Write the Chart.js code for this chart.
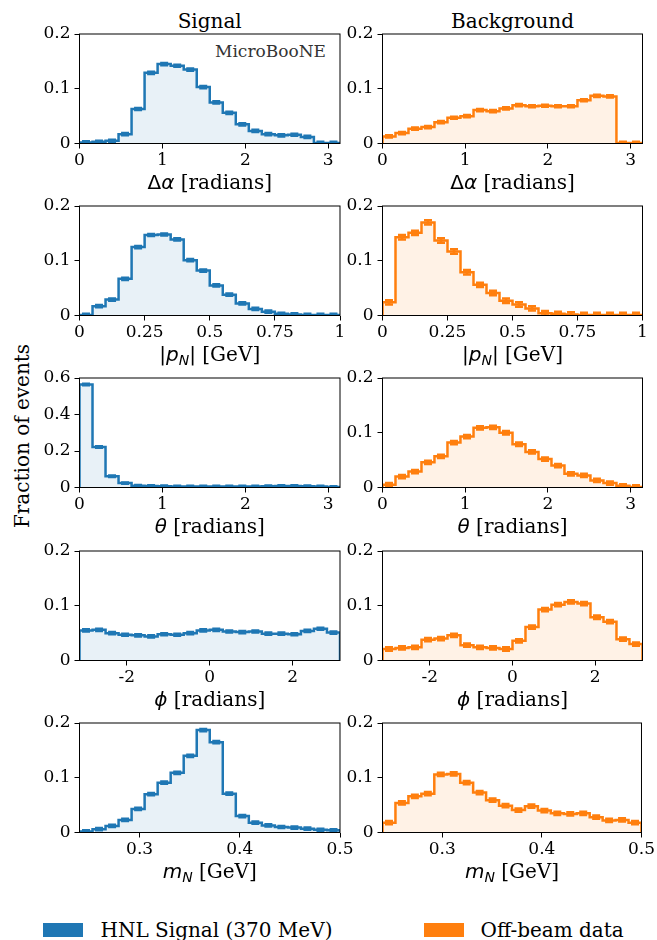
<!DOCTYPE html>
<html>
<head>
<meta charset="utf-8">
<script src="https://cdn.jsdelivr.net/npm/chart.js@4.4.0/dist/chart.umd.min.js"></script>
<style>
  body { margin: 0; background: #fff; }
  #wrap { position: relative; width: 657px; height: 940px; overflow: hidden; font-family: 'DejaVu Serif', serif; }
  #wrap canvas { position: absolute; }
  .txt { position: absolute; font-size: 20px; line-height: 20px; white-space: nowrap; color: #000; }
  .patch { position: absolute; width: 40px; height: 14px; }
</style>
</head>
<body>
<div id="wrap">
  <div class="txt" style="left:209.7px; top:11px; transform:translateX(-50%)">Signal</div>
  <div class="txt" style="left:512.5px; top:11px; transform:translateX(-50%)">Background</div>
  <div class="txt" style="left:22px; top:435.5px; transform:translate(-50%,-50%) rotate(-90deg)">Fraction of events</div>
  <div class="txt" style="right:331px; top:43.3px; font-size:17px; line-height:17px; color:#333">MicroBooNE</div>
  <div class="patch" style="left:43px; top:922.5px; background:#1f77b4"></div>
  <div class="txt" style="left:100.5px; top:919.6px">HNL Signal (370 MeV)</div>
  <div class="patch" style="left:424px; top:922.5px; background:#ff7f0e"></div>
  <div class="txt" style="left:480.5px; top:919.6px">Off-beam data</div>
</div>
<script>
  // bin edges
  const angleEdges = [0, 0.157, 0.314, 0.471, 0.628, 0.785, 0.942, 1.1, 1.257, 1.414, 1.571, 1.728, 1.885, 2.042, 2.199, 2.356, 2.513, 2.67, 2.827, 2.985, 3.142];
  const pnEdges = [0, 0.05, 0.1, 0.15, 0.2, 0.25, 0.3, 0.35, 0.4, 0.45, 0.5, 0.55, 0.6, 0.65, 0.7, 0.75, 0.8, 0.85, 0.9, 0.95, 1];
  const phiEdges = [-3.142, -2.827, -2.513, -2.199, -1.885, -1.571, -1.257, -0.942, -0.628, -0.314, 0, 0.314, 0.628, 0.942, 1.257, 1.571, 1.885, 2.199, 2.513, 2.827, 3.142];
  const mnEdges = [0.24, 0.253, 0.266, 0.279, 0.292, 0.305, 0.318, 0.331, 0.344, 0.357, 0.37, 0.383, 0.396, 0.409, 0.422, 0.435, 0.448, 0.461, 0.474, 0.487, 0.5];

  // Signal (fraction of events per bin)
  const sigDalpha = [0.002, 0.003, 0.005, 0.017, 0.063, 0.129, 0.145, 0.142, 0.135, 0.103, 0.075, 0.056, 0.035, 0.023, 0.017, 0.015, 0.016, 0.012, 0.001, 0.001];
  const sigPn = [0.001, 0.017, 0.029, 0.067, 0.125, 0.147, 0.148, 0.139, 0.101, 0.082, 0.055, 0.038, 0.022, 0.012, 0.007, 0.003, 0.002, 0.001, 0.001, 0.001];
  const sigTheta = [0.564, 0.222, 0.062, 0.024, 0.010, 0.008, 0.007, 0.006, 0.006, 0.006, 0.006, 0.006, 0.006, 0.006, 0.007, 0.008, 0.008, 0.007, 0.006, 0.003];
  const sigPhi = [0.055, 0.056, 0.050, 0.047, 0.046, 0.044, 0.048, 0.047, 0.050, 0.055, 0.056, 0.053, 0.052, 0.053, 0.049, 0.049, 0.048, 0.054, 0.058, 0.051];
  const sigMn = [0.002, 0.006, 0.012, 0.023, 0.043, 0.070, 0.091, 0.109, 0.140, 0.187, 0.165, 0.071, 0.030, 0.018, 0.013, 0.010, 0.009, 0.007, 0.005, 0.004];

  // Background (off-beam data)
  const bkgDalpha = [0.013, 0.019, 0.027, 0.030, 0.039, 0.047, 0.050, 0.061, 0.059, 0.064, 0.070, 0.068, 0.069, 0.068, 0.068, 0.079, 0.087, 0.086, 0.001, 0.001];
  const bkgPn = [0.024, 0.143, 0.151, 0.170, 0.137, 0.117, 0.079, 0.056, 0.041, 0.027, 0.020, 0.013, 0.004, 0.003, 0.002, 0.001, 0.001, 0.001, 0.001, 0.001];
  const bkgTheta = [0.005, 0.020, 0.029, 0.046, 0.057, 0.082, 0.093, 0.109, 0.110, 0.100, 0.079, 0.065, 0.052, 0.040, 0.025, 0.022, 0.013, 0.008, 0.003, 0.001];
  const bkgPhi = [0.021, 0.023, 0.024, 0.038, 0.040, 0.046, 0.028, 0.024, 0.023, 0.021, 0.036, 0.061, 0.093, 0.102, 0.107, 0.104, 0.079, 0.071, 0.039, 0.030];
  const bkgMn = [0.018, 0.054, 0.066, 0.071, 0.106, 0.107, 0.091, 0.073, 0.059, 0.049, 0.041, 0.048, 0.040, 0.035, 0.034, 0.035, 0.028, 0.022, 0.023, 0.018];

  // tick labels
  const angleTicks = [0, 1, 2, 3];
  const pnTicks = [0, 0.25, 0.5, 0.75, 1];
  const phiTicks = [-2, 0, 2];
  const mnTicks = [0.3, 0.4, 0.5];
  const fracTicks = [0, 0.1, 0.2];
  const thetaFracTicks = [0, 0.2, 0.4, 0.6];

  // axis titles: [text, style]  r = serif, s = math upright, i = math italic, b = italic subscript
  const dAlphaTitle = [['Δ', 's'], ['α', 'i'], [' [radians]', 'r']];
  const pnTitle = [['|', 's'], ['p', 'i'], ['N', 'b'], ['|', 's'], [' [GeV]', 'r']];
  const thetaTitle = [['θ', 'i'], [' [radians]', 'r']];
  const phiTitle = [['ϕ', 'i'], [' [radians]', 'r']];
  const mnTitle = [['m', 'i'], ['N', 'b'], [' [GeV]', 'r']];

  const colors = [
    { line: '#1f77b4', fill: 'rgba(31,119,180,0.1)' },
    { line: '#ff7f0e', fill: 'rgba(255,127,14,0.1)' }
  ];

  const plotLeft = [79.5, 382.5];
  const plotRight = [340, 642.5];
  const plotTop = [34.3, 205.8, 378, 550.6, 722.6];
  const plotH = 109.5;
  const canvasLeft = [0, 335];
  const canvasW = [362, 322];

  const panels = [
    { col: 0, row: 0, edges: angleEdges, values: sigDalpha, err: 0.002, xMin: 0, xMax: 3.142, xTicks: angleTicks, yMax: 0.2, yTicks: fracTicks, title: dAlphaTitle },
    { col: 1, row: 0, edges: angleEdges, values: bkgDalpha, err: 0.002, xMin: 0, xMax: 3.142, xTicks: angleTicks, yMax: 0.2, yTicks: fracTicks, title: dAlphaTitle },
    { col: 0, row: 1, edges: pnEdges, values: sigPn, err: 0.002, xMin: 0, xMax: 1, xTicks: pnTicks, yMax: 0.2, yTicks: fracTicks, title: pnTitle },
    { col: 1, row: 1, edges: pnEdges, values: bkgPn, err: 0.004, xMin: 0, xMax: 1, xTicks: pnTicks, yMax: 0.2, yTicks: fracTicks, title: pnTitle },
    { col: 0, row: 2, edges: angleEdges, values: sigTheta, err: 0.004, xMin: 0, xMax: 3.142, xTicks: angleTicks, yMax: 0.6, yTicks: thetaFracTicks, title: thetaTitle },
    { col: 1, row: 2, edges: angleEdges, values: bkgTheta, err: 0.003, xMin: 0, xMax: 3.142, xTicks: angleTicks, yMax: 0.2, yTicks: fracTicks, title: thetaTitle },
    { col: 0, row: 3, edges: phiEdges, values: sigPhi, err: 0.002, xMin: -3.142, xMax: 3.142, xTicks: phiTicks, yMax: 0.2, yTicks: fracTicks, title: phiTitle },
    { col: 1, row: 3, edges: phiEdges, values: bkgPhi, err: 0.003, xMin: -3.142, xMax: 3.142, xTicks: phiTicks, yMax: 0.2, yTicks: fracTicks, title: phiTitle },
    { col: 0, row: 4, edges: mnEdges, values: sigMn, err: 0.002, xMin: 0.24, xMax: 0.5, xTicks: mnTicks, yMax: 0.2, yTicks: fracTicks, title: mnTitle },
    { col: 1, row: 4, edges: mnEdges, values: bkgMn, err: 0.003, xMin: 0.24, xMax: 0.5, xTicks: mnTicks, yMax: 0.2, yTicks: fracTicks, title: mnTitle }
  ];

  Chart.defaults.font.family = "'DejaVu Serif', serif";
  const tickFont = { family: "'DejaVu Serif', serif", size: 17 };

  // small error bars at bin centres
  const errBars = {
    id: 'errBars',
    afterDatasetsDraw(chart, args, opts) {
      const { ctx, chartArea, scales: { x, y } } = chart;
      ctx.save();
      ctx.beginPath();
      ctx.rect(chartArea.left, chartArea.top, chartArea.width, chartArea.height);
      ctx.clip();
      ctx.strokeStyle = opts.color;
      ctx.lineWidth = 2.5;
      for (let i = 0; i < opts.values.length; i++) {
        const cx = x.getPixelForValue((opts.edges[i] + opts.edges[i + 1]) / 2);
        const y1 = y.getPixelForValue(opts.values[i] - opts.err);
        const y2 = y.getPixelForValue(opts.values[i] + opts.err);
        ctx.beginPath();
        ctx.moveTo(cx, y1); ctx.lineTo(cx, y2);
        ctx.moveTo(cx - 4, y1); ctx.lineTo(cx + 4, y1);
        ctx.moveTo(cx - 4, y2); ctx.lineTo(cx + 4, y2);
        ctx.stroke();
      }
      ctx.restore();
    }
  };

  // box around the plot area
  const frame = {
    id: 'frame',
    afterDraw(chart) {
      const { ctx, chartArea: { left, top, width, height } } = chart;
      ctx.save();
      ctx.strokeStyle = '#000';
      ctx.lineWidth = 1;
      ctx.strokeRect(left, top, width, height);
      ctx.restore();
    }
  };

  // x axis title with math pieces
  const partFont = {
    r: "20px 'DejaVu Serif', serif",
    s: "20px 'DejaVu Sans', sans-serif",
    i: "italic 20px 'DejaVu Sans', sans-serif",
    b: "italic 14px 'DejaVu Sans', sans-serif"
  };
  const xTitle = {
    id: 'xTitle',
    afterDraw(chart, args, opts) {
      const { ctx, chartArea } = chart;
      ctx.save();
      ctx.fillStyle = '#000';
      ctx.textBaseline = 'alphabetic';
      ctx.textAlign = 'left';
      let total = 0;
      opts.parts.forEach(p => { ctx.font = partFont[p[1]]; total += ctx.measureText(p[0]).width; });
      let x = (chartArea.left + chartArea.right) / 2 - total / 2;
      const y = chartArea.bottom + 45;
      opts.parts.forEach(p => {
        ctx.font = partFont[p[1]];
        ctx.fillText(p[0], x, p[1] === 'b' ? y + 4 : y);
        x += ctx.measureText(p[0]).width;
      });
      ctx.restore();
    }
  };

  function stepPoints(edges, values) {
    const pts = [{ x: edges[0], y: 0 }];
    values.forEach((v, i) => pts.push({ x: edges[i], y: v }));
    pts.push({ x: edges[edges.length - 1], y: values[values.length - 1] });
    pts.push({ x: edges[edges.length - 1], y: 0 });
    return pts;
  }

  const wrap = document.getElementById('wrap');

  panels.forEach(p => {
    const c = p.col;
    const canvas = document.createElement('canvas');
    canvas.width = canvasW[c];
    canvas.height = 190;
    canvas.style.left = canvasLeft[c] + 'px';
    canvas.style.top = (plotTop[p.row] - 20) + 'px';
    wrap.appendChild(canvas);

    const xAxisH = 190 - 20 - plotH;

    new Chart(canvas, {
      type: 'line',
      data: {
        datasets: [{
          data: stepPoints(p.edges, p.values),
          stepped: true,
          borderColor: colors[c].line,
          borderWidth: 2.5,
          backgroundColor: colors[c].fill,
          fill: 'origin',
          pointRadius: 0
        }]
      },
      options: {
        responsive: false,
        animation: false,
        devicePixelRatio: 1,
        layout: { padding: { top: 20, right: canvasLeft[c] + canvasW[c] - plotRight[c], left: 0, bottom: 0 } },
        plugins: {
          legend: { display: false },
          tooltip: { enabled: false },
          errBars: { edges: p.edges, values: p.values, err: p.err, color: colors[c].line },
          xTitle: { parts: p.title }
        },
        scales: {
          x: {
            type: 'linear',
            min: p.xMin,
            max: p.xMax,
            afterBuildTicks: s => { s.ticks = p.xTicks.map(v => ({ value: v })); },
            afterFit: s => { s.height = xAxisH; },
            ticks: { font: tickFont, color: '#000', padding: 2, maxRotation: 0, autoSkip: false, callback: v => String(v) },
            grid: { drawOnChartArea: false, tickLength: 5, tickColor: '#000' },
            border: { display: false }
          },
          y: {
            min: 0,
            max: p.yMax,
            afterBuildTicks: s => { s.ticks = p.yTicks.map(v => ({ value: v })); },
            afterFit: s => { s.width = plotLeft[c] - canvasLeft[c]; },
            ticks: { font: tickFont, color: '#000', padding: 4, autoSkip: false, callback: v => String(v) },
            grid: { drawOnChartArea: false, tickLength: 5, tickColor: '#000' },
            border: { display: false }
          }
        }
      },
      plugins: [errBars, frame, xTitle]
    });
  });
</script>
</body>
</html>
